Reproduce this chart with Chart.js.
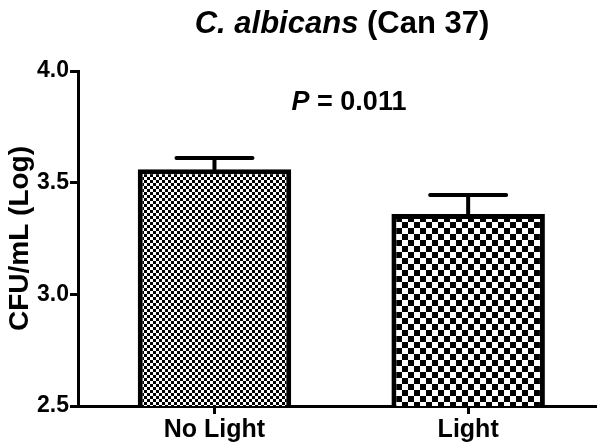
<!DOCTYPE html>
<html>
<head>
<meta charset="utf-8">
<script src="https://cdn.jsdelivr.net/npm/chart.js@4"></script>
<style>
html,body{margin:0;padding:0;background:#fff;}
#wrap{width:600px;height:448px;position:relative;}
</style>
</head>
<body>
<div id="wrap"><canvas id="c" width="600" height="448"></canvas></div>
<script>
const categories = ['No Light', 'Light'];
const positions = [1, 2];
const means = [3.56, 3.36];
const errors = [0.05, 0.085];
const yTicks = [2.5, 3.0, 3.5, 4.0];
const titleItalic = 'C. albicans';
const titleRest = ' (Can 37)';
const pLabel = 'P';
const pValue = ' = 0.011';

const FONT = '"Liberation Sans", Arial, sans-serif';

function checker(size) {
  const c = document.createElement('canvas');
  c.width = size * 2; c.height = size * 2;
  const g = c.getContext('2d');
  g.fillStyle = '#fff'; g.fillRect(0, 0, size * 2, size * 2);
  g.fillStyle = '#000';
  g.fillRect(0, 0, size, size);
  g.fillRect(size, size, size, size);
  return g.createPattern(c, 'repeat');
}
const patterns = [checker(3), checker(6)];

const errorBars = {
  id: 'errorBars',
  afterDatasetsDraw(chart) {
    const ctx = chart.ctx;
    const xs = chart.scales.x, ys = chart.scales.y;
    ctx.save();
    ctx.strokeStyle = '#000';
    ctx.lineWidth = 4;
    ctx.lineCap = 'round';
    means.forEach((m, i) => {
      const x = xs.getPixelForValue(positions[i]);
      const yTop = ys.getPixelForValue(m + errors[i]);
      const yBar = ys.getPixelForValue(m);
      ctx.beginPath();
      ctx.moveTo(x, yBar); ctx.lineTo(x, yTop);
      ctx.moveTo(x - 38, yTop); ctx.lineTo(x + 38, yTop);
      ctx.stroke();
    });
    ctx.restore();
  }
};

const texts = {
  id: 'texts',
  afterDraw(chart) {
    const ctx = chart.ctx;
    ctx.save();
    ctx.fillStyle = '#000';
    ctx.textBaseline = 'alphabetic';
    ctx.textAlign = 'left';
    const fI = 'italic bold 31px ' + FONT, fB = 'bold 31px ' + FONT;
    ctx.font = fI; const w1 = ctx.measureText(titleItalic).width;
    ctx.font = fB; const w2 = ctx.measureText(titleRest).width;
    let x0 = 342 - (w1 + w2) / 2;
    ctx.font = fI; ctx.fillText(titleItalic, x0, 33);
    ctx.font = fB; ctx.fillText(titleRest, x0 + w1, 33);
    const pI = 'italic bold 27px ' + FONT, pB = 'bold 27px ' + FONT;
    ctx.font = pI; const p1 = ctx.measureText(pLabel).width;
    ctx.font = pB; const p2 = ctx.measureText(pValue).width;
    x0 = 349 - (p1 + p2) / 2;
    ctx.font = pI; ctx.fillText(pLabel, x0, 110);
    ctx.font = pB; ctx.fillText(pValue, x0 + p1, 110);
    ctx.restore();
  }
};

new Chart(document.getElementById('c'), {
  type: 'bar',
  data: {
    datasets: [{
      data: positions.map((p, i) => ({ x: p, y: means[i] })),
      backgroundColor: patterns,
      borderColor: '#000',
      borderWidth: 5,
      borderSkipped: 'bottom',
      categoryPercentage: 1,
      barPercentage: 0.605
    }]
  },
  options: {
    responsive: false,
    animation: false,
    devicePixelRatio: 1,
    layout: { padding: { top: 71, right: 5, left: 0, bottom: 0 } },
    plugins: { legend: { display: false }, tooltip: { enabled: false }, title: { display: false } },
    scales: {
      x: {
        type: 'linear',
        offset: false,
        min: 0.462,
        max: 2.5,
        afterBuildTicks(s) { s.ticks = positions.map(v => ({ value: v })); },
        afterFit(s) { s.height = 42; },
        ticks: {
          callback: (v) => categories[positions.indexOf(v)] || '',
          color: '#000',
          font: { family: FONT, size: 25, weight: 'bold' },
          padding: 1,
          maxRotation: 0,
          autoSkip: false
        },
        grid: { offset: false, drawOnChartArea: false, color: '#000', lineWidth: 3, tickLength: 8 },
        border: { color: '#000', width: 3 }
      },
      y: {
        min: 2.5,
        max: 4.0,
        afterBuildTicks(s) { s.ticks = yTicks.map(v => ({ value: v })); },
        afterFit(s) { s.width = 78; },
        ticks: {
          callback: (v) => Number(v).toFixed(1),
          color: '#000',
          font: { family: FONT, size: 23, weight: 'bold' },
          padding: 1
        },
        title: {
          display: true,
          text: 'CFU/mL (Log)',
          color: '#000',
          font: { family: FONT, size: 28, weight: 'bold' },
          padding: { top: 3, bottom: 0 }
        },
        grid: { drawOnChartArea: false, color: '#000', lineWidth: 3, tickLength: 8 },
        border: { color: '#000', width: 3 }
      }
    }
  },
  plugins: [errorBars, texts]
});
</script>
</body>
</html>
